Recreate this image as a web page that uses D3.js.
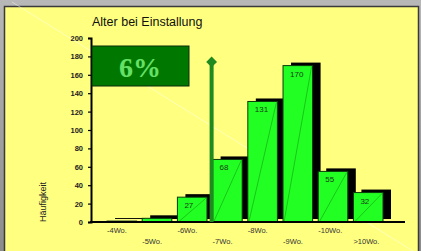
<!DOCTYPE html>
<html>
<head>
<meta charset="utf-8">
<script src="https://cdn.jsdelivr.net/npm/d3@7"></script>
<style>
  html, body { margin: 0; padding: 0; background: #9a9a9a; }
  svg { display: block; }
</style>
</head>
<body>
<script>
const categories = ['-4Wo.', '-5Wo.', '-6Wo.', '-7Wo.', '-8Wo.', '-9Wo.', '-10Wo.', '>10Wo.']
const values = [1, 4, 27, 68, 131, 170, 55, 32]
const yTicks = [0, 20, 40, 60, 80, 100, 120, 140, 160, 180, 200]
const markerValue = 174
const markerCategory = '-7Wo.'
const percentText = '6%'

const WIDTH = 421
const HEIGHT = 251

const svg = d3.select('body').append('svg')
  .attr('width', WIDTH)
  .attr('height', HEIGHT)

// fond gris flou autour du panneau
const defs = svg.append('defs')
const grad = defs.append('linearGradient').attr('id', 'bg').attr('x1', 0).attr('x2', 0).attr('y1', 0).attr('y2', 1)
grad.append('stop').attr('offset', '0%').attr('stop-color', '#b8b8b8')
grad.append('stop').attr('offset', '100%').attr('stop-color', '#8c8c8c')
svg.append('rect').attr('width', WIDTH).attr('height', HEIGHT).attr('fill', 'url(#bg)')

// panneau jaune
svg.append('rect')
  .attr('x', 4).attr('y', 6)
  .attr('width', 414).attr('height', 250)
  .attr('fill', '#ffff80')
svg.append('path')
  .attr('d', 'M4.5,251 V6.5 H418.5 V251')
  .attr('fill', 'none')
  .attr('stroke', '#3a3a3a')
  .attr('stroke-width', 1.5)

// reflet diagonal
svg.append('line')
  .attr('x1', 12).attr('y1', 2).attr('x2', 421).attr('y2', 256)
  .attr('stroke', '#ffffff').attr('stroke-opacity', 0.45).attr('stroke-width', 1)

const x = d3.scaleBand()
  .domain(categories)
  .range([107, 383])
  .paddingInner(0.16)
  .paddingOuter(0)

const y = d3.scaleLinear()
  .domain([0, 200])
  .range([222, 38])

// titre
svg.append('text')
  .attr('x', 92).attr('y', 26)
  .attr('font-family', 'Arial, Liberation Sans, sans-serif')
  .attr('font-size', 12.5)
  .attr('fill', '#111')
  .text('Alter bei Einstallung')

// axe y
const yAxis = svg.append('g')
  .attr('transform', 'translate(91,0)')
  .call(d3.axisLeft(y).tickValues(yTicks).tickSize(3).tickPadding(5))
yAxis.select('.domain').attr('stroke', '#000').attr('stroke-width', 2)
yAxis.selectAll('.tick line').attr('stroke', '#000').attr('stroke-width', 1.2)
yAxis.selectAll('.tick text')
  .attr('font-family', 'Arial, Liberation Sans, sans-serif')
  .attr('font-size', 7.5)
  .attr('font-weight', 'bold')
  .attr('fill', '#222')

// titre axe y
svg.append('text')
  .attr('transform', 'translate(46,202) rotate(-90)')
  .attr('text-anchor', 'middle')
  .attr('font-family', 'Arial, Liberation Sans, sans-serif')
  .attr('font-size', 9)
  .attr('fill', '#222')
  .text('Häufigkeit')

const data = categories.map((c, i) => ({ cat: c, value: values[i] }))
const DX = 8, DY = 3

// ombres noires
svg.append('g').selectAll('rect')
  .data(data)
  .enter()
  .append('rect')
  .attr('x', d => x(d.cat) + DX)
  .attr('y', d => y(d.value) - DY)
  .attr('width', x.bandwidth())
  .attr('height', d => y(0) - y(d.value))
  .attr('fill', '#000')

// barres vertes
const bars = svg.append('g')
bars.selectAll('rect')
  .data(data)
  .enter()
  .append('rect')
  .attr('x', d => x(d.cat))
  .attr('y', d => y(d.value))
  .attr('width', x.bandwidth())
  .attr('height', d => y(0) - y(d.value))
  .attr('fill', '#22ff22')
  .attr('stroke', '#0a3a0a')
  .attr('stroke-width', 1)

// fines diagonales dans les barres
bars.selectAll('line')
  .data(data.filter(d => d.value > 10))
  .enter()
  .append('line')
  .attr('x1', d => x(d.cat) + 1)
  .attr('y1', y(0))
  .attr('x2', d => x(d.cat) + x.bandwidth() - 1)
  .attr('y2', d => y(d.value) + 1)
  .attr('stroke', '#0c8a0c')
  .attr('stroke-width', 0.6)
  .attr('stroke-opacity', 0.8)

// valeurs
bars.selectAll('text')
  .data(data.filter(d => d.value > 10))
  .enter()
  .append('text')
  .attr('x', d => x(d.cat) + 7)
  .attr('y', d => y(d.value) + 11)
  .attr('font-family', 'Arial, Liberation Sans, sans-serif')
  .attr('font-size', 8)
  .attr('fill', '#1a3a1a')
  .text(d => d.value)

// axe x
svg.append('line')
  .attr('x1', 90).attr('x2', 405)
  .attr('y1', y(0)).attr('y2', y(0))
  .attr('stroke', '#000').attr('stroke-width', 2)

svg.append('g').selectAll('text')
  .data(categories)
  .enter()
  .append('text')
  .attr('x', d => x(d))
  .attr('y', (d, i) => i % 2 === 0 ? 233 : 244)
  .attr('font-family', 'Arial, Liberation Sans, sans-serif')
  .attr('font-size', 7.5)
  .attr('fill', '#333')
  .text(d => d)

// repère vertical avec losange
const mx = x(markerCategory) - 1
svg.append('line')
  .attr('x1', mx).attr('x2', mx)
  .attr('y1', y(0)).attr('y2', y(markerValue))
  .attr('stroke', '#1f8a1f').attr('stroke-width', 4)
svg.append('path')
  .attr('d', d3.symbol().type(d3.symbolDiamond2).size(75))
  .attr('transform', `translate(${mx},${y(markerValue)})`)
  .attr('fill', '#1f8a1f')

// encadré pourcentage
svg.append('rect')
  .attr('x', 92).attr('y', 46)
  .attr('width', 97).attr('height', 40)
  .attr('fill', '#007800')
  .attr('stroke', '#0a2a0a').attr('stroke-width', 1)
svg.append('text')
  .attr('x', 140).attr('y', 77)
  .attr('text-anchor', 'middle')
  .attr('font-family', 'Liberation Serif, Times New Roman, serif')
  .attr('font-weight', 'bold')
  .attr('font-size', 28)
  .attr('fill', '#66e066')
  .text(percentText)
</script>
</body>
</html>
